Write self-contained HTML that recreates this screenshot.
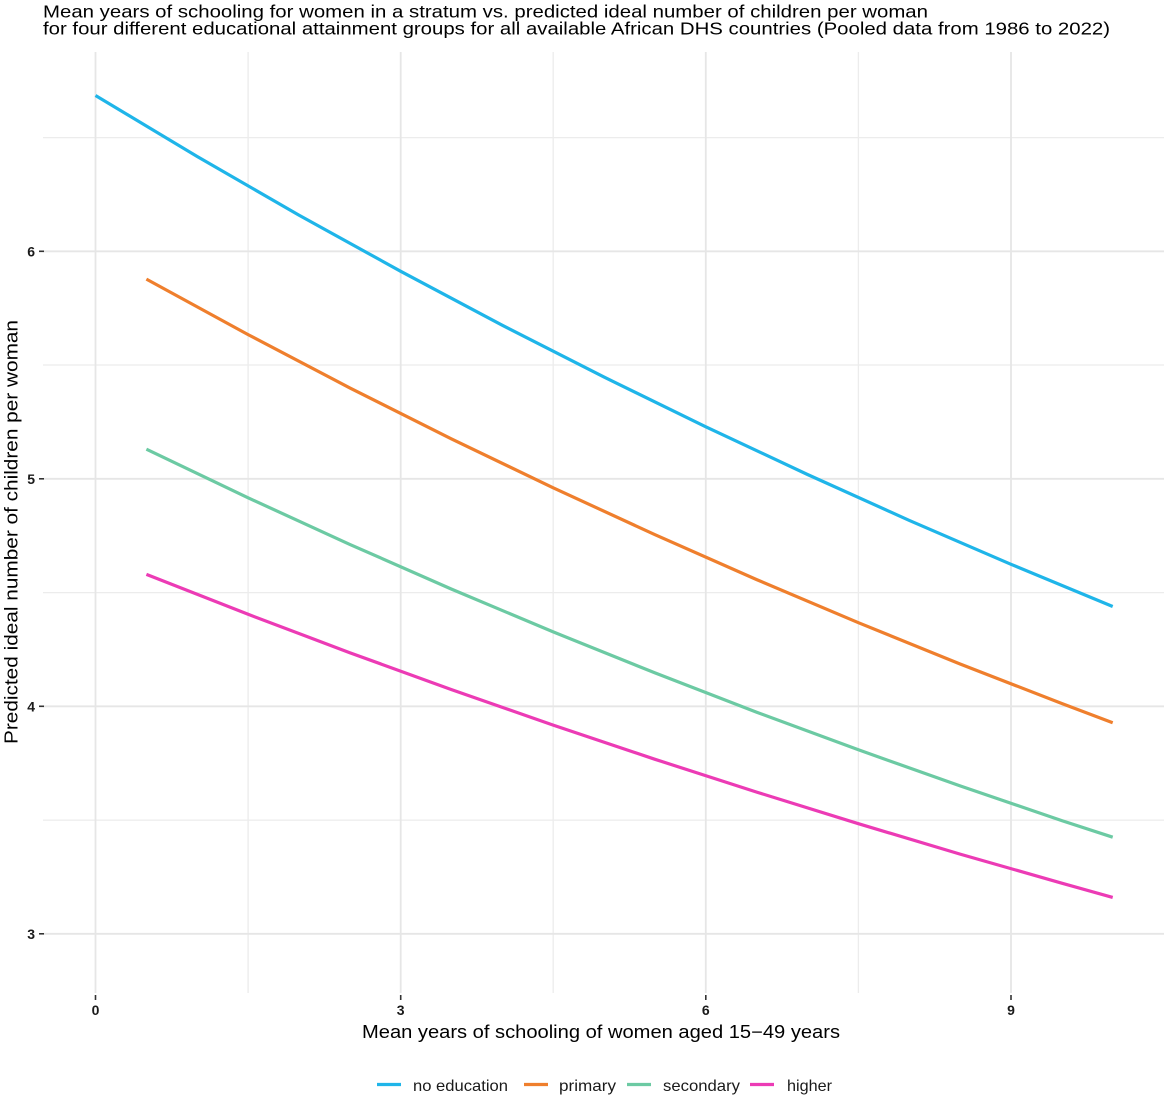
<!DOCTYPE html>
<html>
<head>
<meta charset="utf-8">
<style>
  html,body{margin:0;padding:0;background:#fff;}
  svg{display:block;}
  text{font-family:"Liberation Sans", Arial, sans-serif;}
</style>
</head>
<body>
<svg width="1164" height="1109" viewBox="0 0 1164 1109" xmlns="http://www.w3.org/2000/svg">
  <rect width="1164" height="1109" fill="#ffffff"/>

  <!-- Title -->
  <text x="43" y="17.5" font-size="17.5" fill="#000" textLength="885" lengthAdjust="spacingAndGlyphs">Mean years of schooling for women in a stratum vs. predicted ideal number of children per woman</text>
  <text x="43" y="34.5" font-size="17.5" fill="#000" textLength="1067" lengthAdjust="spacingAndGlyphs">for four different educational attainment groups for all available African DHS countries (Pooled data from 1986 to 2022)</text>

  <!-- Minor gridlines -->
  <g stroke="#ececec" stroke-width="1.3" fill="none">
    <line x1="43" y1="137.6" x2="1164" y2="137.6"/>
    <line x1="43" y1="365.0" x2="1164" y2="365.0"/>
    <line x1="43" y1="592.6" x2="1164" y2="592.6"/>
    <line x1="43" y1="820.1" x2="1164" y2="820.1"/>
    <line x1="248.1" y1="52" x2="248.1" y2="993"/>
    <line x1="553.2" y1="52" x2="553.2" y2="993"/>
    <line x1="858.4" y1="52" x2="858.4" y2="993"/>
  </g>
  <!-- Major gridlines -->
  <g stroke="#e6e6e6" stroke-width="1.8" fill="none">
    <line x1="43" y1="251.3" x2="1164" y2="251.3"/>
    <line x1="43" y1="478.8" x2="1164" y2="478.8"/>
    <line x1="43" y1="706.3" x2="1164" y2="706.3"/>
    <line x1="43" y1="933.8" x2="1164" y2="933.8"/>
    <line x1="95.5" y1="52" x2="95.5" y2="993"/>
    <line x1="400.7" y1="52" x2="400.7" y2="993"/>
    <line x1="705.8" y1="52" x2="705.8" y2="993"/>
    <line x1="1011.0" y1="52" x2="1011.0" y2="993"/>
  </g>

  <!-- Axis ticks -->
  <g stroke="#333" stroke-width="1.6">
    <line x1="39" y1="251.3" x2="44" y2="251.3"/>
    <line x1="39" y1="478.8" x2="44" y2="478.8"/>
    <line x1="39" y1="706.3" x2="44" y2="706.3"/>
    <line x1="39" y1="933.8" x2="44" y2="933.8"/>
    <line x1="95.5" y1="995" x2="95.5" y2="1000"/>
    <line x1="400.7" y1="995" x2="400.7" y2="1000"/>
    <line x1="705.8" y1="995" x2="705.8" y2="1000"/>
    <line x1="1011.0" y1="995" x2="1011.0" y2="1000"/>
  </g>

  <!-- Y tick labels -->
  <g font-size="14" font-weight="bold" fill="#1a1a1a" text-anchor="end">
    <text x="35" y="256.3">6</text>
    <text x="35" y="483.8">5</text>
    <text x="35" y="711.3">4</text>
    <text x="35" y="938.8">3</text>
  </g>
  <!-- X tick labels -->
  <g font-size="14" font-weight="bold" fill="#1a1a1a" text-anchor="middle">
    <text x="95.5" y="1015">0</text>
    <text x="400.7" y="1015">3</text>
    <text x="705.8" y="1015">6</text>
    <text x="1011.0" y="1015">9</text>
  </g>

  <!-- Axis titles -->
  <text x="601" y="1038" font-size="18" fill="#000" text-anchor="middle" textLength="478" lengthAdjust="spacingAndGlyphs">Mean years of schooling of women aged 15−49 years</text>
  <text transform="translate(17.5,532) rotate(-90)" font-size="18" fill="#000" text-anchor="middle" textLength="424" lengthAdjust="spacingAndGlyphs">Predicted ideal number of children per woman</text>

  <!-- Series -->
  <g fill="none" stroke-width="3.2" stroke-linejoin="round" stroke-linecap="butt">
    <polyline stroke="#1fb5e9" points="95.5,95.5 197.2,156.5 298.9,215.1 400.7,271.3 502.4,325.3 604.1,377.1 705.8,426.8 807.5,474.5 909.3,520.4 1011.0,564.3 1112.7,606.5"/>
    <polyline stroke="#ef7f2d" points="146.4,279.1 248.1,334.6 349.8,387.9 451.5,438.9 553.2,487.8 655.0,534.7 756.7,579.6 858.4,622.7 960.1,664.0 1061.8,703.5 1112.7,722.7"/>
    <polyline stroke="#6ccaa3" points="146.4,449.2 248.1,497.8 349.8,544.4 451.5,589.1 553.2,631.9 655.0,672.9 756.7,712.2 858.4,749.8 960.1,785.9 1061.8,820.6 1112.7,837.2"/>
    <polyline stroke="#ec3bb5" points="146.4,574.4 248.1,614.3 349.8,652.7 451.5,689.6 553.2,725.1 655.0,759.3 756.7,792.1 858.4,823.7 960.1,854.1 1061.8,883.2 1112.7,897.4"/>
  </g>

  <!-- Legend -->
  <g stroke-width="3.2">
    <line x1="377" y1="1084.5" x2="401" y2="1084.5" stroke="#1fb5e9"/>
    <line x1="524" y1="1084.5" x2="548" y2="1084.5" stroke="#ef7f2d"/>
    <line x1="627" y1="1084.5" x2="651" y2="1084.5" stroke="#6ccaa3"/>
    <line x1="750" y1="1084.5" x2="774" y2="1084.5" stroke="#ec3bb5"/>
  </g>
  <g font-size="16" fill="#1a1a1a">
    <text x="413" y="1091" textLength="95" lengthAdjust="spacingAndGlyphs">no education</text>
    <text x="559" y="1091" textLength="57" lengthAdjust="spacingAndGlyphs">primary</text>
    <text x="663" y="1091" textLength="77" lengthAdjust="spacingAndGlyphs">secondary</text>
    <text x="787" y="1091" textLength="45" lengthAdjust="spacingAndGlyphs">higher</text>
  </g>
</svg>
</body>
</html>
